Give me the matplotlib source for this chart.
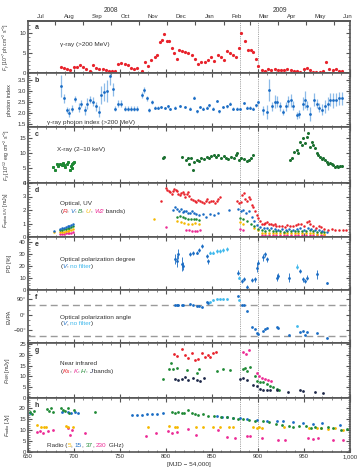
import numpy as np
import matplotlib
matplotlib.use('Agg')
import matplotlib.pyplot as plt
from matplotlib.ticker import MultipleLocator, FuncFormatter, NullFormatter
from matplotlib.transforms import Affine2D, blended_transform_factory

# ---- data (MJD - 54000) ----
# a: gamma-ray flux (>200 MeV), 1e-7 ph cm-2 s-1
gam_t = [685.5, 689, 692.5, 696, 699.5, 703, 706.5, 710, 713.5, 717, 720.5, 724, 727.5, 731,
         734.5, 738, 741.5, 745, 748, 751.5, 755, 758.5, 762, 765.5, 769, 773.5, 777, 780.5,
         784, 787.5, 790, 793, 795.5, 798, 801, 803.5, 806.5, 809, 811.5, 814, 817, 820.5,
         824, 828, 831.5, 835, 838.5, 842, 845.5, 849, 852.5, 856, 859.5, 863, 866, 869.5,
         873, 876.5, 879.5, 882, 885.5, 889, 892, 895, 898, 900.5, 904, 907.5, 911, 914.5,
         918, 921.5, 925, 928.5, 932, 935.5, 939, 942.5, 946, 949.5, 953, 956.5, 960, 963.5,
         967, 970.5, 974, 977.5, 981, 984.5, 988, 991]
gam_f = [1.5, 1.2, 0.9, 0.7, 1.4, 1.6, 2.0, 1.5, 0.9, 0.6, 2.0, 1.3, 1.1, 0.9,
         0.8, 0.6, 0.5, 0.4, 2.2, 2.4, 2.2, 2.0, 1.3, 0.9, 1.3, 0.6, 2.8, 1.7,
         3.2, 3.9, 4.5, 7.6, 8.3, 9.6, 8.0, 7.9, 6.2, 4.9, 3.6, 5.8, 5.5, 5.3,
         4.9, 4.5, 3.6, 2.2, 2.8, 2.8, 3.2, 4.1, 2.9, 4.5, 4.1, 3.2, 5.5, 4.9,
         4.5, 4.1, 6.2, 10.0, 8.0, 5.8, 5.8, 5.3, 3.4, 1.7, 0.7, 0.5, 0.9, 0.7,
         0.9, 0.7, 0.8, 0.7, 1.0, 0.7, 0.5, 0.4, 0.3, 0.9, 1.3, 0.7, 0.3, 0.3,
         0.3, 0.5, 2.8, 1.1, 0.8, 0.9, 0.5, 0.5]

# b: gamma-ray photon index
idx_t = [685.5, 689, 692.5, 695, 698, 701.5, 705, 708, 711.5, 714, 717.5, 720.5, 724, 727.5,
         729.5, 733, 736, 739, 742, 745, 747.5, 751.5, 755, 758.5, 762, 765.5, 769, 773.5,
         776, 779, 782, 784.5, 788, 791.5, 795, 798.5, 802, 804.3, 809.8, 815.2, 820.7, 826,
         830.4, 834, 837, 840.6, 844.2, 847.1, 851.4, 855, 858, 862.3, 866, 869.6, 873.2,
         876.8, 880.4, 884.8, 887.7, 891.3, 894.9, 897.8, 900.4, 905.8, 909.4, 912.3, 914.9,
         918.5, 921, 923.9, 927.5, 930.4, 933, 935.5, 938.4, 942, 945, 948.6, 951.1, 953.6,
         956.5, 960.9, 963.8, 966.7, 969.2, 972.8, 976.4, 978.3, 981.9, 984.8, 988.4, 991]
idx_v = [3.23, 2.67, 2.14, 2.02, 2.21, 2.64, 2.26, 2.44, 2.14, 2.44, 2.62, 2.52, 2.32, 2.06,
         2.82, 2.97, 3.02, 3.70, 3.08, 2.21, 2.44, 2.44, 2.21, 2.21, 2.21, 2.21, 2.21, 2.82,
         3.05, 2.67, 2.14, 2.50, 2.26, 2.26, 2.29, 2.24, 2.32, 2.21, 2.26, 2.32, 2.29, 2.21,
         2.71, 2.09, 2.29, 2.21, 2.26, 2.36, 2.21, 2.56, 2.09, 2.29, 2.32, 2.44, 2.21,
         2.21, 2.21, 2.47, 2.26, 2.26, 2.21, 2.36, 2.52, 2.14, 2.06, 3.05, 2.32,
         2.52, 2.52, 2.32, 2.06, 2.32, 2.55, 2.58, 2.35, 1.90, 1.97, 2.44, 2.62, 2.35,
         1.97, 2.62, 2.44, 2.26, 2.17, 2.32, 2.44, 2.62, 2.58, 2.62, 2.67, 2.67]
idx_e = [0.5, 0.2, 0.15, 0.2, 0.15, 0.15, 0.2, 0.15, 0.2, 0.25, 0.15, 0.2, 0.2, 0.25,
         0.4, 0.4, 0.5, 0.4, 0.3, 0.1, 0.15, 0.15, 0.1, 0.1, 0.1, 0.1, 0.1, 0.15,
         0.15, 0.12, 0.1, 0.1, 0.06, 0.06, 0.06, 0.05, 0.06, 0.05, 0.05, 0.05, 0.05, 0.06,
         0.08, 0.06, 0.06, 0.06, 0.06, 0.06, 0.06, 0.06, 0.06, 0.06, 0.06, 0.06, 0.06,
         0.06, 0.05, 0.05, 0.05, 0.06, 0.06, 0.08, 0.1, 0.2, 0.3, 0.5, 0.2,
         0.3, 0.25, 0.2, 0.15, 0.2, 0.25, 0.3, 0.2, 0.15, 0.2, 0.3, 0.4, 0.2,
         0.3, 0.3, 0.2, 0.2, 0.25, 0.3, 0.3, 0.3, 0.35, 0.3, 0.3, 0.3]

# c: X-ray flux (2-10 keV), 1e-12 erg cm-2 s-1
xr_t = [677.5, 679.3, 681, 683, 685, 686.6, 688.4, 689, 690.2, 692, 693.8, 695.6, 696.5, 697.5,
        698, 699, 700.5, 796.4, 797.8, 817, 821.5, 823.5, 825, 827, 829, 830.5, 833.5, 836,
        838.5, 841.5, 844.5, 847, 849, 852, 854.5, 857, 860, 862.5, 865, 867.5, 870.5, 873.5,
        876, 877.5, 879.5, 882, 884.5, 887.5, 890, 892.5, 895, 934.8, 936.6, 939.5, 942, 944,
        945.7, 947.5, 949.3, 951, 953, 954.8, 956.5, 958.4, 960, 962, 964, 965.7, 967.5, 969.4,
        971, 973, 975, 976.6, 978.4, 980.2, 982, 983.8, 985.5, 987.3, 989, 991]
xr_f = [5.3, 4.4, 6.2, 5.6, 6.4, 5.9, 6.7, 6.0, 5.3, 6.4, 7.0, 4.2, 5.5, 6.2,
        5.0, 6.7, 7.0, 8.1, 8.7, 8.7, 7.6, 8.4, 6.2, 8.1, 4.4, 7.0, 7.6, 7.3,
        8.1, 7.8, 8.7, 8.1, 9.0, 9.2, 8.7, 9.2, 8.4, 9.0, 8.1, 7.8, 8.7, 8.1,
        9.2, 10.0, 7.6, 8.1, 7.8, 7.3, 7.6, 8.1, 9.2, 7.6, 8.1, 10.3, 10.9, 9.8,
        13.7, 12.6, 14.8, 13.1, 15.3, 16.4, 12.0, 13.7, 12.6, 11.4, 9.8, 9.2, 8.7, 7.8,
        8.1, 7.6, 7.0, 6.4, 6.7, 6.2, 5.9, 5.3, 5.6, 5.3, 5.6, 5.6]

# d: optical / UV flux density, mJy
R_t = [795, 800, 801.5, 803, 804.5, 806, 807.5, 809, 810.5, 812, 813.5, 815, 816.5, 818,
       819.5, 821, 822.5, 824, 825.5, 827, 829, 831, 833, 835, 837, 839, 841, 843, 845, 847,
       849, 851, 853, 855, 857, 858.5, 877, 879, 881, 883, 884.5, 886, 888, 890, 891.5, 893,
       895, 897, 898.5, 900, 902, 904, 906, 908, 910, 912, 914, 916, 918, 920, 923, 926, 929,
       932, 935, 938, 941, 944, 947, 950, 953, 955, 957, 960, 963, 966, 969, 972, 976, 980,
       984, 988, 992, 996]
R_f = [2.7, 3.6, 3.5, 3.4, 3.3, 3.2, 3.4, 3.55, 3.5, 3.4, 3.2, 3.1, 3.25, 3.35,
       3.2, 3.0, 3.15, 3.3, 3.05, 2.85, 2.75, 2.7, 2.6, 2.75, 2.65, 2.6, 2.55, 2.7, 2.8, 2.6,
       2.65, 2.7, 2.5, 2.65, 2.85, 3.0, 2.7, 2.5, 2.6, 3.1, 3.25, 2.8, 2.65, 3.0, 2.8, 2.4,
       2.2, 1.9, 1.6, 1.4, 1.2, 1.0, 0.95, 1.05, 1.1, 0.95, 1.0, 0.9, 0.95, 0.85, 0.8, 0.85, 0.75,
       0.9, 0.8, 0.85, 0.9, 0.95, 1.0, 0.8, 1.1, 1.2, 1.0, 0.8, 0.7, 0.85, 0.75, 0.6, 0.55, 0.6,
       0.55, 0.5, 0.55, 0.55]
V_t = [678, 685, 687, 689, 691, 693, 695, 697, 699, 808, 810, 812, 814, 816, 818, 820, 822,
       824, 826, 828, 830, 833, 836, 840, 844, 848, 852, 856, 869, 878, 881, 884, 887, 890,
       893, 896, 899, 902, 906, 910, 914, 918, 922, 926, 930, 934, 938, 942, 946, 950, 954,
       958, 962, 966, 970, 975]
V_f = [0.45, 0.6, 0.65, 0.7, 0.75, 0.8, 0.85, 0.9, 0.95, 2.0, 2.2, 2.1, 1.95, 2.05, 1.85, 1.95, 1.9,
       1.8, 1.75, 1.9, 1.8, 1.7, 1.65, 1.7, 1.5, 1.7, 1.6, 1.75, 2.0, 2.1, 1.9, 2.0, 1.8, 1.9,
       1.5, 1.2, 0.9, 0.75, 0.65, 0.7, 0.65, 0.6, 0.55, 0.6, 0.5, 0.6, 0.55, 0.6, 0.65, 0.55, 0.7,
       0.6, 0.5, 0.55, 0.45, 0.4]
B_t = [685, 687, 689, 691, 693, 695, 697, 699, 812, 815, 818, 821, 824, 827, 830, 833, 836,
       880, 884, 888, 892, 896, 900, 904, 908, 912, 916, 920, 924, 928, 932, 936, 940, 944,
       948, 952, 956, 960, 964, 968, 972]
B_f = [0.5, 0.53, 0.56, 0.6, 0.64, 0.68, 0.72, 0.78, 1.5, 1.55, 1.45, 1.4, 1.35, 1.3, 1.35, 1.3, 1.25,
       1.4, 1.3, 1.2, 1.0, 0.8, 0.6, 0.5, 0.48, 0.5, 0.45, 0.42, 0.44, 0.4, 0.45, 0.42, 0.44, 0.46,
       0.48, 0.42, 0.5, 0.42, 0.38, 0.4, 0.35]
U_t = [678, 685, 687, 689, 691, 693, 695, 697, 699, 787, 812, 816, 820, 824, 828, 832, 836,
       880, 884, 896, 900, 904, 908, 912, 916, 920, 924, 928, 932, 936, 940, 944, 948, 952, 956,
       960, 964, 968, 972]
U_f = [0.35, 0.35, 0.38, 0.4, 0.43, 0.46, 0.5, 0.55, 0.6, 1.35, 1.2, 1.1, 1.05, 1.0, 1.0, 1.05, 0.95,
       1.1, 1.0, 0.7, 0.5, 0.33, 0.3, 0.32, 0.3, 0.28, 0.3, 0.27, 0.3, 0.28, 0.3, 0.31, 0.32, 0.28,
       0.33, 0.28, 0.25, 0.27, 0.24]
W2_t = [685, 687, 689, 691, 693, 695, 697, 699, 800, 822, 825, 828, 831, 834, 837, 880, 884,
        904, 908, 912, 916, 920, 924, 928, 932, 936, 940, 944, 948, 952, 956, 960, 964, 968, 972]
W2_f = [0.2, 0.22, 0.24, 0.26, 0.28, 0.3, 0.32, 0.35, 0.75, 0.55, 0.5, 0.48, 0.45, 0.47, 0.5, 0.6, 0.5,
        0.18, 0.16, 0.17, 0.15, 0.14, 0.16, 0.14, 0.15, 0.14, 0.16, 0.17, 0.16, 0.14, 0.17, 0.14,
        0.12, 0.13, 0.12]

# e/f: optical polarization degree (%) and angle (deg); filt: 0 = V band, 1 = no filter
pol_t = [809.8, 811.6, 813.4, 817, 818, 826, 829, 833.4, 836.2, 838.8, 844.2, 846, 847.8, 851.4,
         855, 858.7, 862.3, 866, 878.6, 879.7, 882.3, 884.8, 888.4, 893.2, 896.7, 899.3, 900.3,
         905.8, 907.6, 909.4, 920.3, 922, 934, 942, 945.6, 949.2, 951, 953, 963.8, 974.7]
pol_pd = [25.6, 24, 29.7, 21.4, 20, 29.7, 30.6, 31, 33.3, 36.7, 28.3, 24, 31, 31,
          32.5, 32.5, 33.3, 34, 14.4, 10.3, 7.5, 9, 2.8, 8.3, 9, 18.6, 22.8,
          27, 29.7, 25.6, 10.3, 11.7, 10.3, 19.5, 15.8, 9, 7.5, 10.3, 13, 5.6]
pol_pde = [4, 5, 4, 6, 3, 1.5, 1.5, 1.5, 1.5, 1.5, 2, 2, 1.5, 1.5,
           1.5, 1.5, 1.5, 1.5, 2, 1.5, 1.5, 1.5, 1.5, 2, 2, 4, 2,
           3, 2, 2, 3, 2, 4, 2, 2, 2, 2, 2, 4, 1]
pol_ang = [55, 60, 58, 55, 56, 65, 60, 52, 49, 45, 74, 70, 74, 84,
           90, 94, 94, 90, 108, 88, 60, 55, 25, -69, -82, -108, -112,
           -92, -82, -76, -73, -76, -116, -63, -102, -92, -116, -102, -108, -135]
pol_filt = [0, 0, 0, 0, 0, 0, 0, 0, 0, 0, 0, 0, 1, 1,
            1, 1, 1, 1, 0, 1, 0, 0, 0, 0, 0, 0, 0,
            0, 0, 0, 0, 0, 0, 1, 0, 0, 0, 0, 0, 0]
jet_pa = [55, -125]

# g: near infrared, mJy
Ks_t = [808.7, 811.6, 817, 820.7, 824.3, 828, 831.5, 835.1, 838.8, 842.4, 846, 847.8, 851.4, 854.3]
Ks_f = [20.5, 19.5, 22.6, 20.0, 18.5, 20.8, 17.5, 18.2, 20.8, 19.2, 20.0, 19.2, 20.8, 21.5]
K_t = [884, 886.6, 890.6, 898.6, 901.5, 904, 907.6, 911.2, 913.8]
K_f = [21.5, 20.5, 22.3, 11.5, 10.3, 9.5, 8.8, 8.2, 8.0]
H_t = [797, 803.6, 805, 808, 812.3, 822.5, 834, 835.9, 855, 862.3, 869.6, 883.3, 885.9, 887.7,
       891.3, 896.7, 898.6, 902.2, 905.8, 909.4, 913, 916.7, 920.3, 923.2]
H_f = [8.8, 13.4, 16.2, 13.4, 13.8, 12.8, 11.5, 13.4, 12.3, 13.4, 13.1, 13.4, 13.8, 12.3,
       14.6, 10.0, 7.7, 7.2, 7.2, 6.5, 5.4, 5.0, 4.2, 3.8]
J_t = [809.8, 813.4, 817, 820.7, 824.3, 829, 833.3, 837, 841.3, 880.4, 884, 887.7, 894.9, 898.6,
       902.2, 905.8, 909.4, 913, 920.3, 933, 945.6, 949.3, 962, 971]
J_f = [8.8, 8.5, 8.8, 9.7, 8.5, 9.2, 8.5, 8.0, 9.2, 8.8, 9.5, 8.2, 6.2, 5.5,
       4.2, 3.8, 3.5, 3.8, 3.5, 2.6, 3.8, 3.3, 2.6, 2.3]

# h: radio, Jy
r5_t = [659.4, 664, 667, 670, 691, 694, 699, 780, 803, 809.8, 811.6, 833, 840.6, 851, 858.7,
        869, 873, 895, 898.6, 901, 904, 928, 955, 963.8, 968, 976.4, 983.7, 992]
r5_f = [12.5, 11.4, 11.6, 11.4, 12.0, 11.4, 11.4, 11.4, 11.7, 11.4, 11.4, 11.4, 11.4, 11.4, 11.4,
        11.4, 11.4, 11.4, 11.2, 11.4, 11.0, 11.4, 11.0, 11.0, 11.0, 10.5, 10.8, 10.2]
r15_t = [652.5, 687, 693, 697, 701, 704, 762.7, 768, 773.5, 779, 784.4, 790, 797, 855, 860.5,
         866, 873, 880.4, 887.7, 898.6, 909.4, 920.3, 927.5, 938.4, 949.3, 960, 969.2, 989]
r15_f = [17.7, 18.2, 18.5, 18.0, 18.2, 17.9, 17.0, 17.0, 17.0, 17.4, 17.4, 17.4, 17.7, 16.5, 16.2,
         15.9, 15.5, 15.5, 15.0, 14.7, 14.4, 14.0, 14.0, 13.5, 13.2, 12.9, 13.2, 12.5]
r37_t = [652.5, 654, 656, 671, 673, 675.5, 677.5, 686, 688, 690, 693, 695, 700, 722.8,
         806, 809.8, 813, 817, 820, 824, 828, 831, 835, 840.6, 846, 852, 860, 866, 873, 878,
         884, 890, 897, 905, 912, 920, 926, 934, 938, 945, 952, 958, 962, 968, 976, 982, 990, 997]
r37_f = [18.5, 17.6, 18.8, 19.5, 18.6, 20.0, 18.2, 20.0, 19.2, 18.6, 20.2, 18.0, 19.0, 18.4,
         18.5, 17.7, 18.5, 17.7, 18.0, 19.2, 18.0, 17.4, 17.0, 17.4, 16.5, 16.5, 16.0, 15.8, 15.5, 15.2,
         15.0, 14.5, 14.3, 14.0, 13.8, 12.8, 12.5, 11.8, 11.4, 11.8, 11.8, 11.0, 11.4, 11.0, 11.4,
         10.8, 10.2, 10.5]
r230_t = [659.4, 663, 666.7, 672, 677.5, 693.8, 695.7, 697.5, 712, 778, 789, 802.5, 806, 811.6,
          824, 833, 857, 866, 875, 888, 891, 904, 922, 929, 954, 960, 965, 981, 992]
r230_f = [9.0, 9.5, 8.7, 9.5, 9.9, 11.0, 8.0, 9.9, 8.7, 7.2, 8.7, 9.5, 8.7, 9.0,
          10.5, 8.0, 10.2, 6.9, 6.5, 7.2, 7.2, 6.5, 5.7, 5.7, 6.2, 6.0, 6.5, 5.4, 5.7]

month_starts = [648, 679, 710, 740, 771, 801, 832, 863, 891, 922, 952, 983]
month_mids = [663.5, 694.5, 725, 755.5, 786, 816.5, 847.5, 877, 906.5, 937, 967.5, 998]
month_names = ['Jul', 'Aug', 'Sep', 'Oct', 'Nov', 'Dec', 'Jan', 'Feb', 'Mar', 'Apr', 'May', 'Jun']
flare_lines = [880, 900]

# ---- style ----
plt.rcParams['font.family'] = ['Liberation Sans', 'DejaVu Sans']
plt.rcParams['mathtext.fontset'] = 'custom'
plt.rcParams['mathtext.rm'] = 'Liberation Sans'
plt.rcParams['mathtext.it'] = 'Liberation Sans:italic'

RED = '#e8232c'
BLUE = '#1a6cc4'
LBLUE = '#8dbbe8'
CYAN = '#3fb8ec'
GREEN = '#1f8a35'
DGREEN = '#1b7030'
ORANGE = '#f5b800'
MAGENTA = '#ec2b95'
NAVY = '#1d2748'
FRAME = '#555555'
TXT = '#333333'
FS = 4.6

fig = plt.figure(figsize=(3.57, 4.71), dpi=100)
edges = [20.7, 73, 127, 183, 237, 290, 343, 398, 452]
H = 471.0
axes = []
for i in range(8):
    top, bot = edges[i], edges[i + 1]
    ax = fig.add_axes([28 / 357, 1 - bot / H, 322 / 357, (bot - top) / H])
    axes.append(ax)
ax_a, ax_b, ax_c, ax_d, ax_e, ax_f, ax_g, ax_h = axes

renderer = fig.canvas.get_renderer()


def color_text(ax, x, y, parts):
    trans = ax.transAxes
    for s, c, st in parts:
        t = ax.text(x, y, s, color=c, transform=trans, fontsize=FS, style=st,
                    va='center', ha='left')
        w = t.get_window_extent(renderer=renderer).width
        trans = t.get_transform() + Affine2D().translate(w, 0)


def pts(ax, x, y, c, ms=2.0, **kw):
    ax.plot(x, y, 'o', color=c, ms=ms, mew=0, **kw)


# a
pts(ax_a, gam_t, gam_f, RED, ms=2.3)
ax_a.set_ylim(0, 13)
ax_a.yaxis.set_major_locator(MultipleLocator(5))
ax_a.yaxis.set_minor_locator(MultipleLocator(1))
ax_a.text(0.1, 0.55, 'γ-ray (>200 MeV)', transform=ax_a.transAxes, fontsize=FS, color=TXT, va='center')
ax_a.set_ylabel(r'$F_{\gamma}$ [10$^{-7}$ ph cm$^{-2}$ s$^{-1}$]', fontsize=3.6)

# b
ax_b.errorbar(idx_t, idx_v, yerr=idx_e, fmt='o', color=BLUE, ecolor=LBLUE, ms=2.0, mew=0,
              elinewidth=0.9, capsize=0)
ax_b.set_ylim(1.38, 3.82)
ax_b.yaxis.set_major_locator(MultipleLocator(0.5))
ax_b.yaxis.set_minor_locator(MultipleLocator(0.1))
ax_b.yaxis.set_major_formatter(FuncFormatter(lambda v, p: f'{v:.1f}'))
ax_b.text(0.06, 0.08, 'γ-ray photon index (>200 MeV)', transform=ax_b.transAxes, fontsize=FS,
          color=TXT, va='center')
ax_b.set_ylabel('photon index', fontsize=4.0)

# c
pts(ax_c, xr_t, xr_f, DGREEN, ms=2.2)
pts(ax_c, xr_t[:17], xr_f[:17], GREEN, ms=2.2)
ax_c.set_ylim(0, 18.5)
ax_c.yaxis.set_major_locator(MultipleLocator(5))
ax_c.yaxis.set_minor_locator(MultipleLocator(1))
ax_c.text(0.09, 0.59, 'X-ray (2–10 keV)', transform=ax_c.transAxes, fontsize=FS, color=TXT, va='center')
ax_c.set_ylabel(r'$F_X$ [10$^{-12}$ erg cm$^{-2}$ s$^{-1}$]', fontsize=3.6)

# d
pts(ax_d, W2_t, W2_f, MAGENTA, ms=1.8)
pts(ax_d, U_t, U_f, ORANGE, ms=1.8)
pts(ax_d, B_t, B_f, GREEN, ms=1.8)
pts(ax_d, V_t, V_f, BLUE, ms=1.8)
pts(ax_d, R_t, R_f, RED, ms=1.8)
ax_d.set_ylim(0, 4.0)
ax_d.yaxis.set_major_locator(MultipleLocator(1))
ax_d.yaxis.set_minor_locator(MultipleLocator(0.2))
ax_d.text(0.1, 0.62, 'Optical, UV', transform=ax_d.transAxes, fontsize=FS, color=TXT, va='center')
color_text(ax_d, 0.1, 0.48, [('(', TXT, 'normal'), ('R', RED, 'italic'), (', ', TXT, 'normal'),
                             ('V', BLUE, 'italic'), (', ', TXT, 'normal'), ('B', GREEN, 'italic'),
                             (', ', TXT, 'normal'), ('U', ORANGE, 'italic'), (', ', TXT, 'normal'),
                             ('W2', MAGENTA, 'italic'), (' bands)', TXT, 'normal')])
ax_d.set_ylabel(r'$F_{\rm optical/UV}$ [mJy]', fontsize=3.8)

# e / f
pol_t = np.array(pol_t)
filt = np.array(pol_filt) == 1
ax_e.errorbar(pol_t[~filt], np.array(pol_pd)[~filt], yerr=np.array(pol_pde)[~filt], fmt='o',
              color=BLUE, ms=2.0, mew=0, elinewidth=0.6, capsize=0)
ax_e.errorbar(pol_t[filt], np.array(pol_pd)[filt], yerr=np.array(pol_pde)[filt], fmt='o',
              color=CYAN, ms=2.0, mew=0, elinewidth=0.6, capsize=0)
ax_e.set_ylim(0, 44)
ax_e.yaxis.set_major_locator(MultipleLocator(10))
ax_e.yaxis.set_minor_locator(MultipleLocator(2))
ax_e.text(0.1, 0.58, 'Optical polarization degree', transform=ax_e.transAxes, fontsize=FS,
          color=TXT, va='center')
color_text(ax_e, 0.1, 0.45, [('(', TXT, 'normal'), ('V', BLUE, 'italic'), (', ', TXT, 'normal'),
                             ('no filter', CYAN, 'normal'), (')', TXT, 'normal')])
ax_e.set_ylabel('PD [%]', fontsize=4.0)

for pa in jet_pa:
    ax_f.axhline(pa, color='#9a9a9a', ls=(0, (5, 3)), lw=1.0, zorder=1)
pts(ax_f, pol_t[~filt], np.array(pol_ang)[~filt], BLUE)
pts(ax_f, pol_t[filt], np.array(pol_ang)[filt], CYAN)
ax_f.set_ylim(-165, 145)
ax_f.set_yticks([-90, 0, 90])
ax_f.set_yticklabels(['−90°', '0°', '90°'])
ax_f.yaxis.set_minor_locator(MultipleLocator(30))
ax_f.text(0.1, 0.49, 'Optical polarization angle', transform=ax_f.transAxes, fontsize=FS,
          color=TXT, va='center')
color_text(ax_f, 0.1, 0.36, [('(', TXT, 'normal'), ('V', BLUE, 'italic'), (', ', TXT, 'normal'),
                             ('no filter', CYAN, 'normal'), (')', TXT, 'normal')])
ax_f.set_ylabel('EVPA', fontsize=4.0)

# g
pts(ax_g, Ks_t, Ks_f, RED)
pts(ax_g, K_t, K_f, MAGENTA)
pts(ax_g, H_t, H_f, GREEN)
pts(ax_g, J_t, J_f, NAVY)
ax_g.set_ylim(0, 25.5)
ax_g.yaxis.set_major_locator(MultipleLocator(5))
ax_g.yaxis.set_minor_locator(MultipleLocator(1))
ax_g.text(0.1, 0.62, 'Near infrared', transform=ax_g.transAxes, fontsize=FS, color=TXT, va='center')
color_text(ax_g, 0.1, 0.49, [('(', TXT, 'normal'), ('Ks', RED, 'italic'), (', ', TXT, 'normal'),
                             ('K', MAGENTA, 'italic'), (', ', TXT, 'normal'), ('H', GREEN, 'italic'),
                             (', ', TXT, 'normal'), ('J', NAVY, 'italic'), (' bands)', TXT, 'normal')])
ax_g.set_ylabel(r'$F_{\rm NIR}$ [mJy]', fontsize=4.0)

# h
pts(ax_h, r230_t, r230_f, MAGENTA)
pts(ax_h, r5_t, r5_f, ORANGE)
pts(ax_h, r15_t, r15_f, BLUE)
pts(ax_h, r37_t, r37_f, GREEN)
ax_h.set_ylim(0, 24.7)
ax_h.yaxis.set_major_locator(MultipleLocator(5))
ax_h.yaxis.set_minor_locator(MultipleLocator(1))
color_text(ax_h, 0.06, 0.12, [('Radio (', TXT, 'normal'), ('5', ORANGE, 'normal'), (', ', TXT, 'normal'),
                              ('15', BLUE, 'normal'), (', ', TXT, 'normal'), ('37', GREEN, 'normal'),
                              (', ', TXT, 'normal'), ('230', MAGENTA, 'normal'), (' GHz)', TXT, 'normal')])
ax_h.set_ylabel(r'$F_{\rm radio}$ [Jy]', fontsize=4.0)
ax_h.set_xlabel('[MJD − 54,000]', fontsize=FS, color=TXT, labelpad=2)

# common axis styling
for i, ax in enumerate(axes):
    ax.set_xlim(650, 1000)
    ax.xaxis.set_major_locator(MultipleLocator(50))
    ax.xaxis.set_minor_locator(MultipleLocator(10))
    for xl in flare_lines:
        ax.axvline(xl, color='#888888', ls=(0, (1, 1.2)), lw=0.6, zorder=0)
    ax.tick_params(which='both', direction='in', top=(i > 0), right=True, labelsize=4.3,
                   labelcolor=TXT, color=FRAME, pad=1.5)
    ax.tick_params(which='major', length=3, width=0.8)
    ax.tick_params(which='minor', length=1.5, width=0.5)
    ax.tick_params(axis='x', labelbottom=(i == 7))
    for sp in ax.spines.values():
        sp.set_color(FRAME)
        sp.set_linewidth(1.2)
    ax.yaxis.label.set_color(TXT)
    ax.yaxis.set_label_coords(-0.05, 0.5)
    ax.text(0.02, 0.93, 'abcdefgh'[i], transform=ax.transAxes, fontsize=5, weight='bold',
            color=TXT, va='top')

ax_h.xaxis.set_major_formatter(FuncFormatter(lambda v, p: f'{int(v):,}'))

sec = ax_a.secondary_xaxis('top')
sec.set_xticks(month_starts)
sec.xaxis.set_major_formatter(NullFormatter())
sec.set_xticks(month_mids, labels=month_names, minor=True)
sec.tick_params(which='major', direction='in', length=3, width=0.8, color=FRAME)
sec.tick_params(which='minor', length=0, labelsize=4.3, labelcolor=TXT, pad=1.0)
sec.spines['top'].set_color(FRAME)
sec.spines['top'].set_linewidth(1.2)
yr = blended_transform_factory(ax_a.transData, ax_a.transAxes)
ax_a.text(740, 1.2, '2008', transform=yr, fontsize=4.8, color=TXT, ha='center', va='center')
ax_a.text(924, 1.2, '2009', transform=yr, fontsize=4.8, color=TXT, ha='center', va='center')

fig.savefig('out.png', dpi=100, facecolor='white')
